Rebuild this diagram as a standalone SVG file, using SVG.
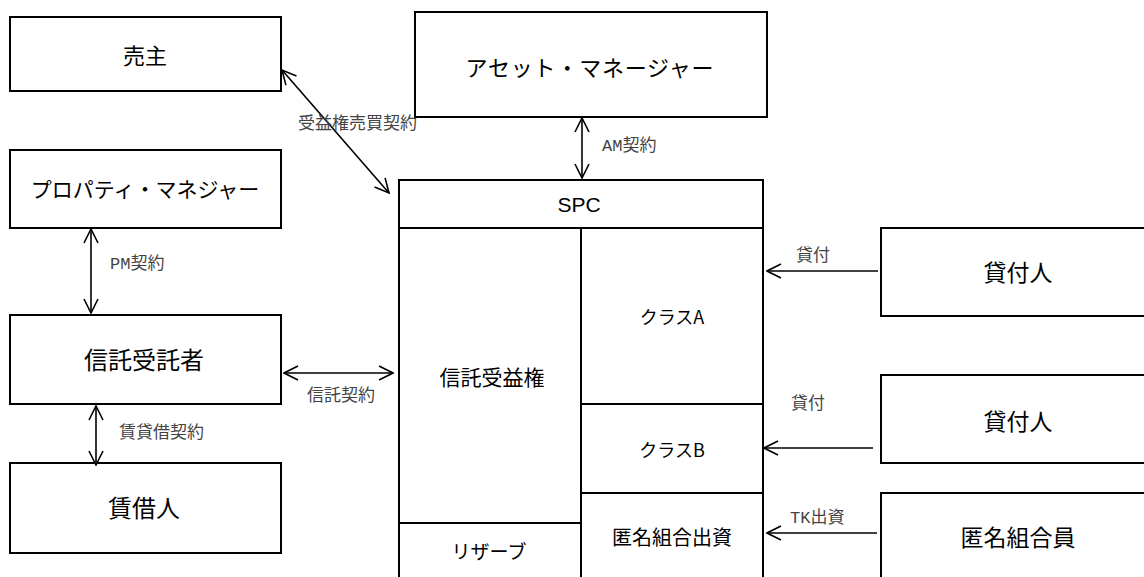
<svg xmlns="http://www.w3.org/2000/svg" width="1144" height="577" viewBox="0 0 1144 577">
<style>
.box{fill:#fff;stroke:#000;stroke-width:2}
.div{stroke:#000;stroke-width:2;fill:none}
.t{font-family:"Noto Sans CJK JP","Liberation Sans",sans-serif;font-weight:400;fill:#000;text-anchor:middle}
.lat{font-family:"Liberation Sans",sans-serif;font-weight:400;fill:#000;text-anchor:middle}
.lab{font-family:"Liberation Mono","Noto Sans CJK JP",monospace;font-size:17px;fill:#444}
.c{stroke:#000;stroke-width:1.6;fill:none}
</style>
<defs>
<marker id="ah" markerUnits="userSpaceOnUse" markerWidth="16" markerHeight="16" viewBox="0 0 16 16" refX="15" refY="8" orient="auto-start-reverse">
<path d="M1,1 L15,8 L1,15" fill="none" stroke="#000" stroke-width="1.6"/>
</marker>
</defs>
<rect width="1144" height="577" fill="#fff"/>
<g id="seller"><rect class="box" x="10" y="17" width="271" height="74"/><text class="t" x="145" y="64" font-size="22">売主</text></g>
<g id="pm"><rect class="box" x="10" y="150" width="271" height="78"/><text class="t" x="145" y="197" font-size="21">プロパティ・マネジャー</text></g>
<g id="trustee"><rect class="box" x="10" y="315" width="271" height="89"/><text class="t" x="144" y="369" font-size="24">信託受託者</text></g>
<g id="lessee"><rect class="box" x="10" y="463" width="271" height="90"/><text class="t" x="144" y="517" font-size="24">賃借人</text></g>
<g id="am"><rect class="box" x="415" y="12" width="352" height="105"/><text class="t" x="590" y="76" font-size="22" letter-spacing="0.8">アセット・マネージャー</text></g>
<g id="spc">
<rect class="box" x="399" y="180" width="364" height="420"/>
<line class="div" x1="399" y1="228" x2="763" y2="228"/>
<line class="div" x1="581" y1="228" x2="581" y2="600"/>
<line class="div" x1="581" y1="404" x2="763" y2="404"/>
<line class="div" x1="581" y1="493" x2="763" y2="493"/>
<line class="div" x1="399" y1="523" x2="581" y2="523"/>
<text class="lat" x="579" y="212" font-size="21">SPC</text>
<text class="t" x="492" y="385" font-size="21">信託受益権</text>
<text class="t" x="672" y="324" font-size="18">クラスA</text>
<text class="t" x="672" y="457" font-size="18">クラスB</text>
<text class="t" x="672" y="545" font-size="20">匿名組合出資</text>
<text class="t" x="489" y="559" font-size="19">リザーブ</text>
</g>
<g id="lender1"><rect class="box" x="881" y="228" width="300" height="88"/><text class="t" x="1018" y="281" font-size="23">貸付人</text></g>
<g id="lender2"><rect class="box" x="881" y="375" width="300" height="88"/><text class="t" x="1018" y="430" font-size="23">貸付人</text></g>
<g id="tkinvestor"><rect class="box" x="881" y="493" width="300" height="200"/><text class="t" x="1018" y="546" font-size="23">匿名組合員</text></g>
<g id="connectors">
<line class="c" x1="282" y1="70" x2="389" y2="193" marker-start="url(#ah)" marker-end="url(#ah)"/>
<line class="c" x1="582" y1="118" x2="582" y2="178" marker-start="url(#ah)" marker-end="url(#ah)"/>
<line class="c" x1="91" y1="229" x2="91" y2="313" marker-start="url(#ah)" marker-end="url(#ah)"/>
<line class="c" x1="96" y1="406" x2="96" y2="465" marker-start="url(#ah)" marker-end="url(#ah)"/>
<line class="c" x1="284" y1="373" x2="393" y2="373" marker-start="url(#ah)" marker-end="url(#ah)"/>
<line class="c" x1="878" y1="271" x2="767" y2="271" marker-end="url(#ah)"/>
<line class="c" x1="873" y1="448" x2="764" y2="448" marker-end="url(#ah)"/>
<line class="c" x1="877" y1="533" x2="767" y2="533" marker-end="url(#ah)"/>
<text class="lab" x="298" y="129">受益権売買契約</text>
<text class="lab" x="602" y="151">AM契約</text>
<text class="lab" x="110" y="269">PM契約</text>
<text class="lab" x="119" y="438">賃貸借契約</text>
<text class="lab" x="307" y="401">信託契約</text>
<text class="lab" x="796" y="261">貸付</text>
<text class="lab" x="791" y="409">貸付</text>
<text class="lab" x="790" y="523">TK出資</text>
</g>
</svg>
